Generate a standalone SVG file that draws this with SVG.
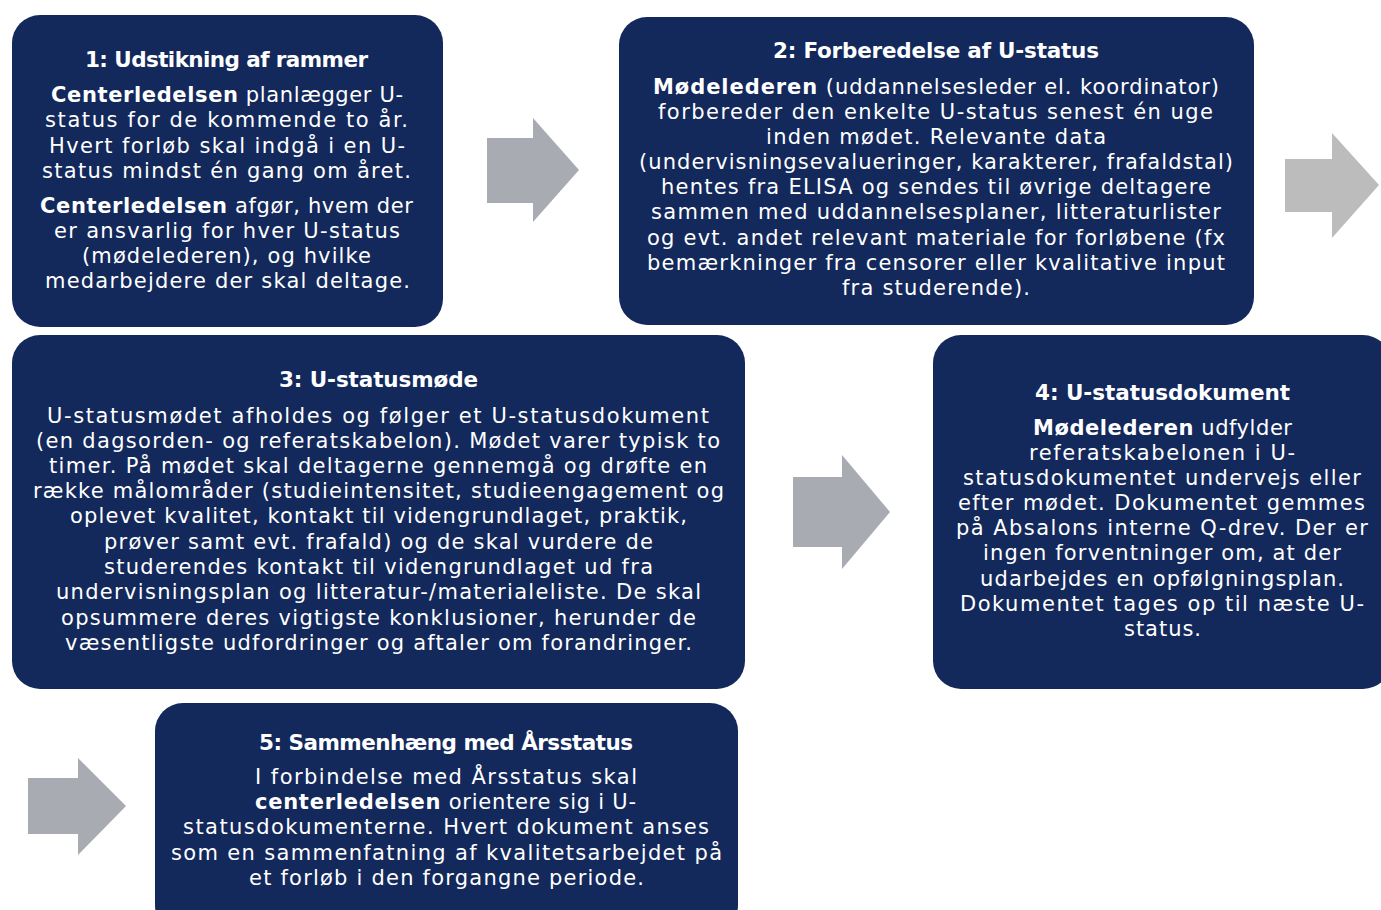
<svg xmlns="http://www.w3.org/2000/svg" width="1381" height="910" viewBox="0 0 1381 910">
<style>
.box{fill:#13285b}
.arr{fill:#a9abb3}
.t{font-family:"DejaVu Sans","Liberation Sans",sans-serif;fill:#fff;font-size:21.5px;font-weight:700}
.b{font-family:"DejaVu Sans","Liberation Sans",sans-serif;fill:#fff;font-size:21px}
.bb{font-weight:700}
</style>
<rect width="1381" height="910" fill="#fff"/>
<g id="connectors">
<polygon class="arr" points="487,138 533,138 533,118 579,170 533,222 533,203 487,203"/>
<polygon class="arr" style="fill:#bcbcbc" points="1285,159 1332,159 1332,133 1379,185 1332,238 1332,212 1285,212"/>
<polygon class="arr" points="793,477 842,477 842,455 890,512 842,569 842,547 793,547"/>
<polygon class="arr" points="28,778 78,778 78,758 126,806 78,855 78,834 28,834"/>
</g>
<g id="node1">
<rect class="box" x="12" y="15" width="431" height="312" rx="28"/>
<text class="t" x="85" y="67" textLength="283" lengthAdjust="spacing">1: Udstikning af rammer</text>
<text class="b" x="51" y="102" textLength="352" lengthAdjust="spacing"><tspan class="bb">Centerledelsen</tspan> planlægger U-</text>
<text class="b" x="45" y="127" textLength="363" lengthAdjust="spacing">status for de kommende to år.</text>
<text class="b" x="49" y="153" textLength="356" lengthAdjust="spacing">Hvert forløb skal indgå i en U-</text>
<text class="b" x="42" y="178" textLength="369" lengthAdjust="spacing">status mindst én gang om året.</text>
<text class="b" x="40" y="213" textLength="373" lengthAdjust="spacing"><tspan class="bb">Centerledelsen</tspan> afgør, hvem der</text>
<text class="b" x="54" y="238" textLength="346" lengthAdjust="spacing">er ansvarlig for hver U-status</text>
<text class="b" x="82" y="263" textLength="289" lengthAdjust="spacing">(mødelederen), og hvilke</text>
<text class="b" x="45" y="288" textLength="365" lengthAdjust="spacing">medarbejdere der skal deltage.</text>
</g>
<g id="node2">
<rect class="box" x="619" y="17" width="635" height="308" rx="28"/>
<text class="t" x="773" y="58" textLength="326" lengthAdjust="spacing">2: Forberedelse af U-status</text>
<text class="b" x="653" y="94" textLength="566" lengthAdjust="spacing"><tspan class="bb">Mødelederen</tspan> (uddannelsesleder el. koordinator)</text>
<text class="b" x="658" y="119" textLength="555" lengthAdjust="spacing">forbereder den enkelte U-status senest én uge</text>
<text class="b" x="766" y="144" textLength="340" lengthAdjust="spacing">inden mødet. Relevante data</text>
<text class="b" x="639" y="169" textLength="594" lengthAdjust="spacing">(undervisningsevalueringer, karakterer, frafaldstal)</text>
<text class="b" x="661" y="194" textLength="550" lengthAdjust="spacing">hentes fra ELISA og sendes til øvrige deltagere</text>
<text class="b" x="651" y="219" textLength="570" lengthAdjust="spacing">sammen med uddannelsesplaner, litteraturlister</text>
<text class="b" x="647" y="245" textLength="578" lengthAdjust="spacing">og evt. andet relevant materiale for forløbene (fx</text>
<text class="b" x="647" y="270" textLength="578" lengthAdjust="spacing">bemærkninger fra censorer eller kvalitative input</text>
<text class="b" x="842" y="295" textLength="188" lengthAdjust="spacing">fra studerende).</text>
</g>
<g id="node3">
<rect class="box" x="12" y="335" width="733" height="354" rx="28"/>
<text class="t" x="279" y="387" textLength="199" lengthAdjust="spacing">3: U-statusmøde</text>
<text class="b" x="47" y="423" textLength="662" lengthAdjust="spacing">U-statusmødet afholdes og følger et U-statusdokument</text>
<text class="b" x="36" y="448" textLength="684" lengthAdjust="spacing">(en dagsorden- og referatskabelon). Mødet varer typisk to</text>
<text class="b" x="49" y="473" textLength="658" lengthAdjust="spacing">timer. På mødet skal deltagerne gennemgå og drøfte en</text>
<text class="b" x="33" y="498" textLength="691" lengthAdjust="spacing">række målområder (studieintensitet, studieengagement og</text>
<text class="b" x="70" y="523" textLength="617" lengthAdjust="spacing">oplevet kvalitet, kontakt til videngrundlaget, praktik,</text>
<text class="b" x="104" y="549" textLength="549" lengthAdjust="spacing">prøver samt evt. frafald) og de skal vurdere de</text>
<text class="b" x="104" y="574" textLength="549" lengthAdjust="spacing">studerendes kontakt til videngrundlaget ud fra</text>
<text class="b" x="56" y="599" textLength="645" lengthAdjust="spacing">undervisningsplan og litteratur-/materialeliste. De skal</text>
<text class="b" x="61" y="625" textLength="635" lengthAdjust="spacing">opsummere deres vigtigste konklusioner, herunder de</text>
<text class="b" x="65" y="650" textLength="627" lengthAdjust="spacing">væsentligste udfordringer og aftaler om forandringer.</text>
</g>
<g id="node4">
<rect class="box" x="933" y="335" width="458" height="354" rx="28"/>
<text class="t" x="1035" y="400" textLength="255" lengthAdjust="spacing">4: U-statusdokument</text>
<text class="b" x="1033" y="435" textLength="259" lengthAdjust="spacing"><tspan class="bb">Mødelederen</tspan> udfylder</text>
<text class="b" x="1029" y="460" textLength="266" lengthAdjust="spacing">referatskabelonen i U-</text>
<text class="b" x="963" y="485" textLength="398" lengthAdjust="spacing">statusdokumentet undervejs eller</text>
<text class="b" x="958" y="510" textLength="407" lengthAdjust="spacing">efter mødet. Dokumentet gemmes</text>
<text class="b" x="956" y="535" textLength="412" lengthAdjust="spacing">på Absalons interne Q-drev. Der er</text>
<text class="b" x="983" y="560" textLength="358" lengthAdjust="spacing">ingen forventninger om, at der</text>
<text class="b" x="980" y="586" textLength="364" lengthAdjust="spacing">udarbejdes en opfølgningsplan.</text>
<text class="b" x="960" y="611" textLength="404" lengthAdjust="spacing">Dokumentet tages op til næste U-</text>
<text class="b" x="1124" y="636" textLength="77" lengthAdjust="spacing">status.</text>
</g>
<g id="node5">
<rect class="box" x="155" y="703" width="583" height="230" rx="28"/>
<text class="t" x="259" y="750" textLength="374" lengthAdjust="spacing">5: Sammenhæng med Årsstatus</text>
<text class="b" x="255" y="784" textLength="382" lengthAdjust="spacing">I forbindelse med Årsstatus skal</text>
<text class="b" x="255" y="809" textLength="381" lengthAdjust="spacing"><tspan class="bb">centerledelsen</tspan> orientere sig i U-</text>
<text class="b" x="183" y="834" textLength="526" lengthAdjust="spacing">statusdokumenterne. Hvert dokument anses</text>
<text class="b" x="171" y="860" textLength="551" lengthAdjust="spacing">som en sammenfatning af kvalitetsarbejdet på</text>
<text class="b" x="249" y="885" textLength="395" lengthAdjust="spacing">et forløb i den forgangne periode.</text>
</g>
</svg>
